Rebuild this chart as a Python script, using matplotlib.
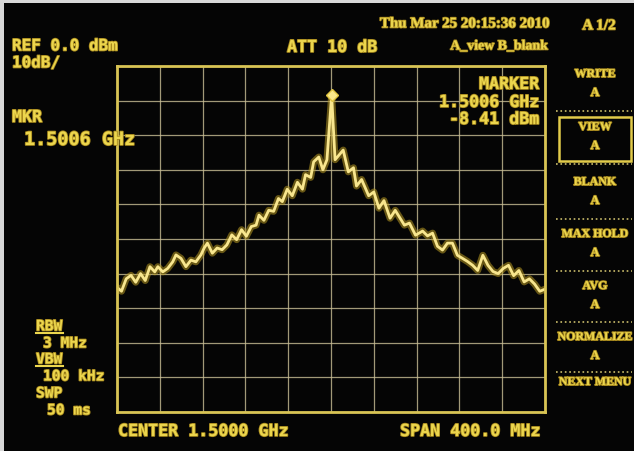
import matplotlib
matplotlib.use("Agg")
from matplotlib import pyplot as plt
from matplotlib.patches import Rectangle
from matplotlib.lines import Line2D
import matplotlib.patheffects as pe

# trace: frequency in MHz, level in dBm
freq = [1300, 1304.2, 1308.6, 1313.1, 1317.5, 1322.0, 1326.4, 1330.8, 1335.3,
        1338.2, 1342.8, 1347.4, 1352.1, 1355.1, 1359.8, 1364.4, 1369.1, 1373.7,
        1378.4, 1381.5, 1384.5, 1389.1, 1393.6, 1398.2, 1402.7, 1407.3, 1411.8,
        1416.4, 1420.9, 1425.5, 1430.0, 1432.7, 1437.3, 1441.8, 1446.4, 1450.9,
        1454.5, 1459.1, 1463.8, 1468.6, 1473.3, 1476.2, 1481.0, 1483.8, 1488.6,
        1492.4, 1496.2, 1500.6, 1503.8, 1511.4, 1516.2, 1521.0, 1523.8, 1528.6,
        1535.2, 1540.0, 1544.8, 1549.5, 1555.2, 1560.0, 1568.6, 1573.3, 1579.0,
        1585.6, 1590.2, 1594.9, 1599.5, 1604.2, 1608.8, 1613.5, 1618.1, 1622.9,
        1627.6, 1632.4, 1637.1, 1641.9, 1646.7, 1651.4, 1656.2, 1661.0, 1665.9,
        1670.7, 1675.6, 1680.5, 1685.4, 1690.2, 1695.1, 1700]
level = [-64.0, -65.1, -61.5, -60.5, -62.5, -60.0, -62.0, -58.0, -59.5, -58.0,
         -59.5, -58.5, -56.6, -54.6, -55.6, -58.0, -56.1, -56.6, -54.6, -52.6,
         -51.2, -54.1, -52.6, -53.1, -51.7, -48.8, -50.2, -47.3, -49.2, -46.4,
         -46.0, -43.1, -44.6, -41.7, -42.0, -38.3, -39.2, -35.6, -37.5, -33.6,
         -35.6, -31.4, -32.2, -27.7, -26.3, -30.0, -27.1, -8.41, -27.1, -24.3,
         -30.6, -29.4, -34.7, -32.8, -37.5, -36.4, -41.1, -38.9, -44.0, -41.7,
         -46.0, -45.4, -48.9, -47.7, -49.1, -48.3, -52.1, -53.2, -51.2, -51.2,
         -54.7, -55.6, -56.5, -57.6, -59.1, -54.7, -57.6, -59.4, -60.0, -58.5,
         -57.6, -60.6, -59.1, -62.4, -61.5, -63.0, -65.1, -64.5]

marker_f = 1500.6
marker_l = -8.41

menu_items = ["WRITE", "VIEW", "BLANK", "MAX HOLD", "AVG", "NORMALIZE"]
menu_y = [75, 128, 183, 235, 287, 338]
sep_y = [112, 165, 220, 272, 323, 373]

W, H = 634, 452
YEL = "#ecd64e"
MONO = "DejaVu Sans Mono"
SERIF = "Liberation Serif"
glow = [pe.withStroke(linewidth=1.2, foreground="#a88a1e")]


def px(x, y):
    return x / W, 1 - y / H


fig = plt.figure(figsize=(W / 100, H / 100), dpi=100, facecolor="#050505")
ax = fig.add_axes([117 / W, 1 - 413 / H, (545 - 117) / W, (413 - 67) / H])
ax.set_facecolor("#050505")
ax.set_xlim(1300, 1700)
ax.set_ylim(-100, 0)
ax.set_xticks(range(1300, 1701, 40))
ax.set_yticks(range(-100, 1, 10))
ax.tick_params(length=0, labelbottom=False, labelleft=False)
ax.grid(True, color="#c9bf96", lw=0.9, alpha=0.8)
for s in ax.spines.values():
    s.set_color("#d9c454")
    s.set_linewidth(2)

ax.plot(freq, level, color="#b89a22", lw=5, alpha=0.55, solid_joinstyle="round")
ax.plot(freq, level, color="#f8e68e", lw=2, solid_joinstyle="round")
ax.plot([marker_f], [marker_l], marker="D", ms=6, color="#fbe98a", mec="#e0c440")

tk = dict(color=YEL, fontweight="bold", va="center", path_effects=glow)
tm = dict(tk, family=MONO)
ts = dict(tk, family=SERIF)

# header texts
fig.text(*px(12, 47), "REF 0.0 dBm", fontsize=11.5, **tm)
fig.text(*px(12, 64), "10dB/", fontsize=11.5, **tm)
fig.text(*px(287, 48), "ATT 10 dB", fontsize=12, **tm)
fig.text(*px(550, 25), "Thu Mar 25 20:15:36 2010", fontsize=10.8, ha="right", **ts)
fig.text(*px(548, 47), "A_view B_blank", fontsize=10, ha="right", **ts)
fig.text(*px(599, 27), "A 1/2", fontsize=11, ha="center", **ts)

fig.text(*px(539, 85), "MARKER", fontsize=12, ha="right", **tm)
fig.text(*px(539, 103), "1.5006 GHz", fontsize=12, ha="right", **tm)
fig.text(*px(539, 120), "-8.41 dBm", fontsize=12, ha="right", **tm)

fig.text(*px(12, 118), "MKR", fontsize=12, **tm)
fig.text(*px(24, 141), "1.5006 GHz", fontsize=13.3, **tm)

# bottom left settings
fig.text(*px(36, 327), "RBW", fontsize=10.5, **tm)
fig.text(*px(43, 344), "3 MHz", fontsize=10.5, **tm)
fig.text(*px(36, 360), "VBW", fontsize=10.5, **tm)
fig.text(*px(43, 377), "100 kHz", fontsize=10.5, **tm)
fig.text(*px(36, 394), "SWP", fontsize=10.5, **tm)
fig.text(*px(47, 411), "50 ms", fontsize=10.5, **tm)
for uy in (334, 367):
    fig.add_artist(Line2D([36 / W, 63 / W], [1 - uy / H] * 2, color=YEL, lw=1.5))

fig.text(*px(118, 432), "CENTER 1.5000 GHz", fontsize=12, **tm)
fig.text(*px(540, 432), "SPAN 400.0 MHz", fontsize=12, ha="right", **tm)

# soft key menu
for name, y in zip(menu_items, menu_y):
    fig.text(*px(595, y), name, fontsize=8.6, ha="center", **ts)
    fig.text(*px(595, y + 19), "A", fontsize=9, ha="center", **ts)
fig.text(*px(595, 383), "NEXT MENU", fontsize=8.6, ha="center", **ts)
for y in sep_y:
    fig.add_artist(Line2D([556 / W, 632 / W], [1 - y / H] * 2, color="#cbbd6a",
                          lw=1.2, ls=":"))
fig.add_artist(Rectangle(px(559, 162), 72 / W, 44 / H, fill=False,
                         edgecolor="#e2cb4a", lw=1.8))

# light frame on left and top of the photo
fig.add_artist(Rectangle((0, 0), 4 / W, 1, color="#d8d8d8", lw=0))
fig.add_artist(Rectangle((0, 1 - 4 / H), 1, 4 / H, color="#d8d8d8", lw=0))

fig.savefig("out.png", dpi=100, facecolor=fig.get_facecolor())
